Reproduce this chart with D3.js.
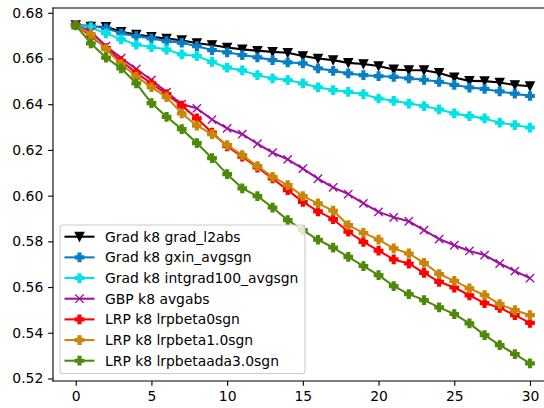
<!DOCTYPE html>
<html><head><meta charset="utf-8">
<script src="https://cdn.jsdelivr.net/npm/d3@7"></script>
<style>
html,body{margin:0;padding:0;background:#fff;overflow:hidden}
svg{display:block}
text{font-family:"DejaVu Sans",sans-serif}
</style></head>
<body>
<script>
const xValues = d3.range(0, 31);
const xTicks = [0, 5, 10, 15, 20, 25, 30];
const yTicks = [0.52, 0.54, 0.56, 0.58, 0.60, 0.62, 0.64, 0.66, 0.68];

const seriesNames = [
  "Grad k8 grad_l2abs",
  "Grad k8 gxin_avgsgn",
  "Grad k8 intgrad100_avgsgn",
  "GBP k8 avgabs",
  "LRP k8 lrpbeta0sgn",
  "LRP k8 lrpbeta1.0sgn",
  "LRP k8 lrpbetaada3.0sgn"
];
const seriesColors = ["#000000", "#0a7fc4", "#00e2e6", "#a010a0", "#ff0000", "#c8860a", "#4e8a0a"];
const seriesMarkers = ["v", "P", "P", "x", "P", "P", "P"];

const gradL2abs = [0.6746,0.6740,0.6739,0.6717,0.6705,0.6695,0.6687,0.6680,0.6667,0.6659,0.6648,0.6640,0.6634,0.6629,0.6625,0.6611,0.6600,0.6593,0.6581,0.6576,0.6567,0.6552,0.6549,0.6549,0.6537,0.6517,0.6502,0.6501,0.6495,0.6484,0.6479];
const gxinAvgsgn = [0.6746,0.6742,0.6732,0.6710,0.6698,0.6688,0.6676,0.6669,0.6654,0.6637,0.6627,0.6615,0.6605,0.6593,0.6583,0.6579,0.6557,0.6546,0.6535,0.6527,0.6523,0.6520,0.6513,0.6507,0.6498,0.6485,0.6473,0.6467,0.6456,0.6446,0.6436];
const intgradAvgsgn = [0.6746,0.6735,0.6710,0.6684,0.6661,0.6650,0.6639,0.6618,0.6611,0.6585,0.6560,0.6548,0.6527,0.6513,0.6506,0.6491,0.6474,0.6462,0.6454,0.6444,0.6425,0.6415,0.6403,0.6392,0.6377,0.6360,0.6348,0.6338,0.6319,0.6309,0.6298];
const gbpAvgabs = [0.6746,0.6718,0.6654,0.6602,0.6554,0.6506,0.6453,0.6400,0.6382,0.6333,0.6294,0.6269,0.6227,0.6188,0.6159,0.6118,0.6074,0.6036,0.6007,0.5966,0.5929,0.5905,0.5888,0.5849,0.5810,0.5783,0.5758,0.5740,0.5703,0.5670,0.5639];
const lrpBeta0 = [0.6746,0.6698,0.6646,0.6589,0.6537,0.6491,0.6444,0.6394,0.6338,0.6276,0.6216,0.6171,0.6123,0.6075,0.6024,0.5973,0.5931,0.5897,0.5842,0.5798,0.5759,0.5721,0.5703,0.5662,0.5623,0.5598,0.5564,0.5530,0.5509,0.5477,0.5443];
const lrpBeta1 = [0.6746,0.6707,0.6641,0.6576,0.6521,0.6475,0.6431,0.6360,0.6306,0.6269,0.6221,0.6177,0.6129,0.6082,0.6046,0.5998,0.5966,0.5934,0.5871,0.5837,0.5808,0.5769,0.5747,0.5706,0.5657,0.5627,0.5594,0.5565,0.5525,0.5499,0.5477];
const lrpBetaAda3 = [0.6746,0.6666,0.6604,0.6557,0.6491,0.6405,0.6345,0.6291,0.6230,0.6164,0.6094,0.6032,0.5998,0.5948,0.5893,0.5849,0.5807,0.5773,0.5732,0.5692,0.5652,0.5604,0.5569,0.5543,0.5511,0.5482,0.5441,0.5390,0.5346,0.5307,0.5266];

const seriesValues = [gradL2abs, gxinAvgsgn, intgradAvgsgn, gbpAvgabs, lrpBeta0, lrpBeta1, lrpBetaAda3];

const W = 544, H = 408;
const L = 53, R = 552.7, T = 8, B = 381;
const FS = 13.9;
const MS = 8.33; // marker size px
const LW = 2.08;

const svg = d3.select("body").append("svg").attr("width", W).attr("height", H);

const x = d3.scaleLinear().domain([-1.5, 31.5]).range([L, R]);
const y = d3.scaleLinear().domain([0.5189, 0.6821]).range([B, T]);

function markerPath(type) {
  const s = MS;
  if (type === "P") {
    const pts = [[-1,-3],[1,-3],[1,-1],[3,-1],[3,1],[1,1],[1,3],[-1,3],[-1,1],[-3,1],[-3,-1],[-1,-1]]
      .map(p => [p[0] / 6 * s, p[1] / 6 * s]);
    return "M" + pts.map(p => p.join(",")).join("L") + "Z";
  }
  if (type === "v") {
    const r = s / 2;
    return `M0,${r}L${-r},${-r}L${r},${-r}Z`;
  }
  if (type === "x") {
    const r = s / 2;
    return `M${-r},${-r}L${r},${r}M${-r},${r}L${r},${-r}`;
  }
}

function drawMarker(g, type, color) {
  const p = g.append("path").attr("d", markerPath(type));
  if (type === "x") {
    p.attr("fill", "none").attr("stroke", color).attr("stroke-width", 1.39);
  } else {
    p.attr("fill", color).attr("stroke", color).attr("stroke-width", 1.39).attr("stroke-linejoin", "miter");
  }
}

svg.append("clipPath").attr("id", "clip").append("rect")
  .attr("x", L).attr("y", T).attr("width", R - L).attr("height", B - T);

const plot = svg.append("g").attr("clip-path", "url(#clip)");
const line = d3.line().x((d, i) => x(xValues[i])).y(d => y(d));

seriesValues.forEach((vals, si) => {
  const g = plot.append("g");
  g.append("path").datum(vals).attr("d", line)
    .attr("fill", "none").attr("stroke", seriesColors[si])
    .attr("stroke-width", LW).attr("stroke-linejoin", "round").attr("stroke-linecap", "square");
  vals.forEach((v, i) => {
    const mg = g.append("g").attr("transform", `translate(${x(xValues[i])},${y(v)})`);
    drawMarker(mg, seriesMarkers[si], seriesColors[si]);
  });
});

// spines
const spine = svg.append("g").attr("stroke", "#000").attr("stroke-width", 1.11).attr("fill", "none");
spine.append("line").attr("x1", L).attr("x2", L).attr("y1", T).attr("y2", B).attr("stroke-linecap", "square");
spine.append("line").attr("x1", L).attr("x2", R).attr("y1", B).attr("y2", B).attr("stroke-linecap", "square");
spine.append("line").attr("x1", L).attr("x2", R).attr("y1", T).attr("y2", T).attr("stroke-linecap", "square");
spine.append("line").attr("x1", R).attr("x2", R).attr("y1", T).attr("y2", B);

// axes
const xAxis = d3.axisBottom(x).tickValues(xTicks).tickFormat(d3.format("d")).tickSize(4.86).tickPadding(4.86);
const yAxis = d3.axisLeft(y).tickValues(yTicks).tickFormat(d3.format(".2f")).tickSize(4.86).tickPadding(4.86);

const gx = svg.append("g").attr("transform", `translate(0,${B})`).call(xAxis);
const gy = svg.append("g").attr("transform", `translate(${L},0)`).call(yAxis);
[gx, gy].forEach(g => {
  g.select(".domain").remove();
  g.selectAll(".tick line").attr("stroke", "#000").attr("stroke-width", 1.11);
  g.selectAll(".tick text").attr("fill", "#000").style("font-size", FS + "px").style("font-family", '"DejaVu Sans", sans-serif');
});

// legend
const legX = 60, legY = 225, legW = 245, legH = 148.5;
const leg = svg.append("g");
leg.append("rect").attr("x", legX).attr("y", legY).attr("width", legW).attr("height", legH)
  .attr("rx", 2.8).attr("ry", 2.8)
  .attr("fill", "#fff").attr("fill-opacity", 0.8)
  .attr("stroke", "#cccccc").attr("stroke-width", 1.11);

const rowY0 = 236.7, rowStep = 20.67;
seriesNames.forEach((name, si) => {
  const ry = rowY0 + si * rowStep;
  leg.append("line").attr("x1", 65.5).attr("x2", 93.5).attr("y1", ry).attr("y2", ry)
    .attr("stroke", seriesColors[si]).attr("stroke-width", LW).attr("stroke-linecap", "square");
  const mg = leg.append("g").attr("transform", `translate(79.5,${ry})`);
  drawMarker(mg, seriesMarkers[si], seriesColors[si]);
  leg.append("text").attr("x", 105).attr("y", ry).attr("dy", "0.36em")
    .style("font-size", FS + "px").attr("fill", "#000").text(name);
});
</script>
</body></html>
